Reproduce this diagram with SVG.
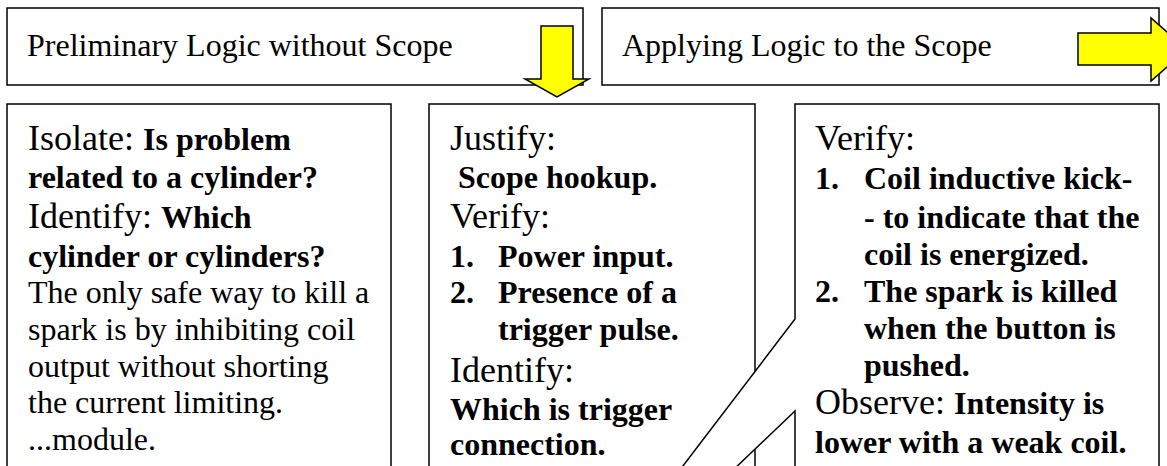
<svg xmlns="http://www.w3.org/2000/svg" width="1167" height="466" viewBox="0 0 1167 466">
<style>
.box{fill:#fff;stroke:#000;stroke-width:1.5}
.arrow{fill:#ffff00;stroke:#000;stroke-width:1.5;stroke-linejoin:miter}
text{font-family:'Liberation Serif','Times New Roman',serif;fill:#000}
.h{font-size:32px}
.lab{font-size:36px}
.b{font-size:32px;font-weight:bold}
.r{font-size:32px}
</style>
<rect x="0" y="0" width="1167" height="466" fill="#fff"/>
<g id="top-preliminary">
<rect class="box" x="7" y="8" width="576" height="77"/>
<text class="h" x="27" y="56">Preliminary Logic without Scope</text>
</g>
<g id="top-applying">
<rect class="box" x="602" y="8" width="557" height="77"/>
<text class="h" x="622" y="56">Applying Logic to the Scope</text>
</g>
<g id="box-isolate">
<rect class="box" x="7" y="104" width="384" height="380"/>
<text x="28" y="150"><tspan class="lab">Isolate: </tspan><tspan class="b">Is problem</tspan></text>
<text class="b" x="28" y="188">related to a cylinder?</text>
<text x="28" y="228"><tspan class="lab">Identify: </tspan><tspan class="b">Which</tspan></text>
<text class="b" x="28" y="267">cylinder or cylinders?</text>
<text class="r" x="28" y="303">The only safe way to kill a</text>
<text class="r" x="28" y="340">spark is by inhibiting coil</text>
<text class="r" x="28" y="377">output without shorting</text>
<text class="r" x="28" y="413">the current limiting.</text>
<text class="r" x="28" y="450">...module.</text>
</g>
<g id="box-justify">
<rect class="box" x="429" y="104" width="326" height="380"/>
<text class="lab" x="450" y="150">Justify:</text>
<text class="b" x="458" y="188">Scope hookup.</text>
<text class="lab" x="450" y="228">Verify:</text>
<text class="b" x="450" y="267">1.</text>
<text class="b" x="498" y="267">Power input.</text>
<text class="b" x="450" y="303">2.</text>
<text class="b" x="498" y="303">Presence of a</text>
<text class="b" x="498" y="340">trigger pulse.</text>
<text class="lab" x="450" y="382">Identify:</text>
<text class="b" x="450" y="420">Which is trigger</text>
<text class="b" x="450" y="455">connection.</text>
</g>
<g id="box-verify">
<polygon class="box" points="795,104 1159,104 1159,484 795,484 795,411 538,656 795,319"/>
<text class="lab" x="815" y="150">Verify:</text>
<text class="b" x="815" y="189">1.</text>
<text class="b" x="864" y="189">Coil inductive kick-</text>
<text class="b" x="864" y="228">- to indicate that the</text>
<text class="b" x="864" y="265">coil is energized.</text>
<text class="b" x="815" y="302">2.</text>
<text class="b" x="864" y="302">The spark is killed</text>
<text class="b" x="864" y="339">when the button is</text>
<text class="b" x="864" y="376">pushed.</text>
<text x="815" y="414"><tspan class="lab">Observe: </tspan><tspan class="b">Intensity is</tspan></text>
<text class="b" x="815" y="453">lower with a weak coil.</text>
</g>
<g id="connectors">
<polygon class="arrow" points="541,26 573,26 573,79 589,79 557,97 525,79 541,79"/>
<polygon class="arrow" points="1078,33 1151,33 1151,18 1187,49.5 1151,81 1151,65 1078,65"/>
</g>
</svg>
